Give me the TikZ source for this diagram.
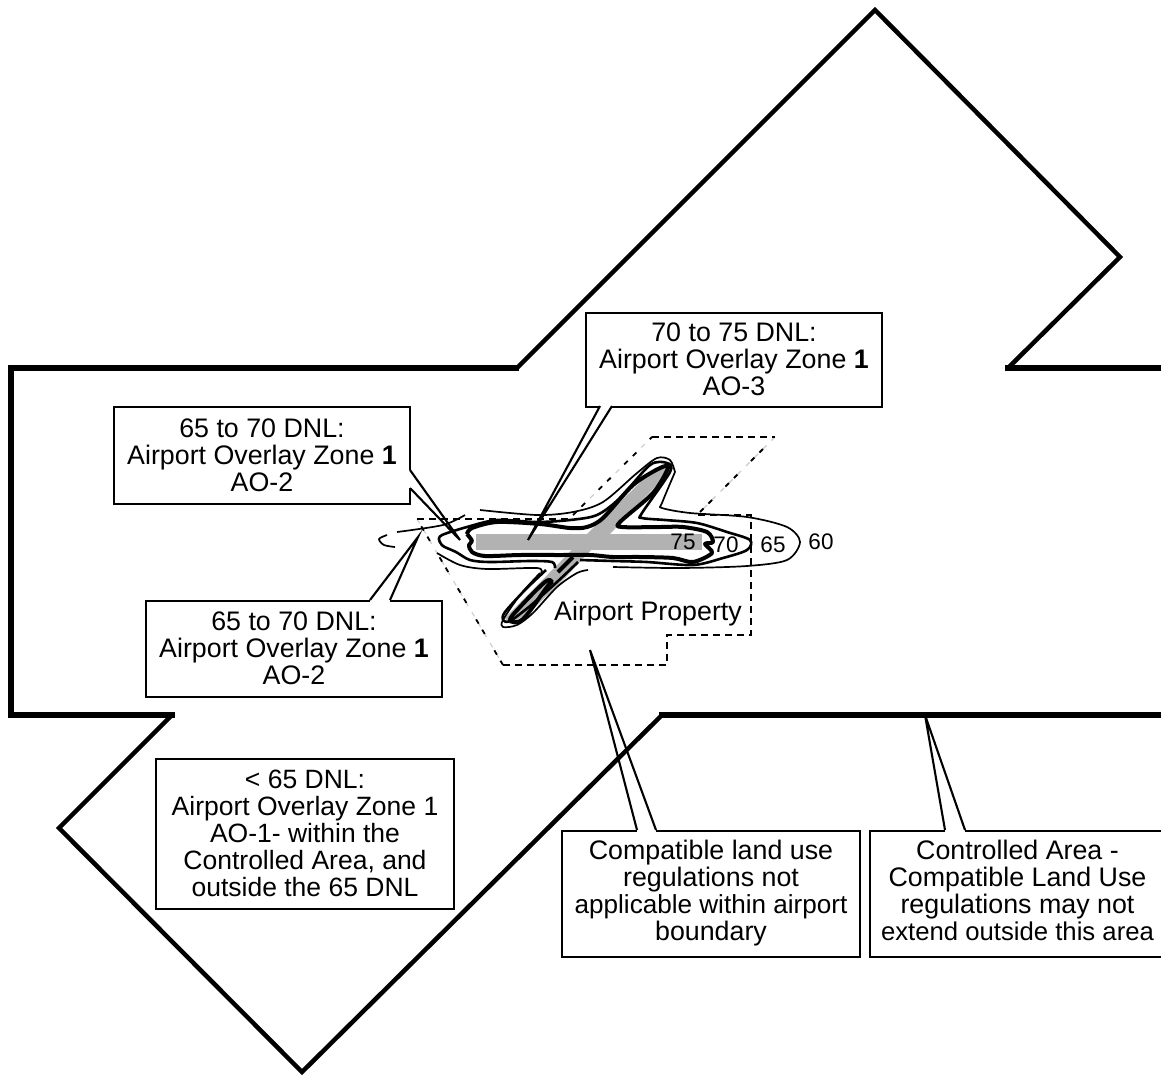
\documentclass[tikz,border=0pt]{standalone}
\usepackage{fontspec}
\setmainfont{Liberation Sans}
\begin{document}
\begin{tikzpicture}[x=1pt,y=-1pt,
  line join=miter,
  outline/.style={line width=4.5pt},
  heavy/.style={line width=6.8pt},
  callout/.style={draw,line width=2pt,fill=white,align=center,anchor=north west,inner sep=0pt,font=\fontsize{26.8}{27}\selectfont},
  ptr/.style={line width=2.1pt},
  gap/.style={white,line width=3pt},
  lbl/.style={font=\fontsize{22.5}{24}\selectfont,inner sep=0pt},
  bnd/.style={line width=1.8pt,dash pattern=on 7pt off 5pt},
  bndd/.style={line width=1.8pt,dash pattern=on 5pt off 7pt on 5pt off 19pt},
  bndg/.style={line width=1.1pt,gray!40,dash pattern=on 5pt off 7pt},
  cthin/.style={line width=1.7pt,line join=round},
  cmed/.style={line width=2.6pt,line join=round},
  cthick/.style={line width=4pt,line join=round},
  rwy/.style={fill=black!30,draw=none}]
\useasboundingbox (0,0) rectangle (1161,1074);
\fill[white] (0,0) rectangle (1161,1074);
% controlled area outline
\draw[outline] (517,368) -- (875,10) -- (1120,257) -- (1008,368);
\draw[heavy] (1005,368) -- (1161,368);
\draw[heavy] (519,368) -- (11,368) -- (11,715) -- (175,715);
\draw[heavy] (1161,715) -- (659,715);
\draw[outline] (662,715) -- (302,1072) -- (59,828) -- (172,715);
% airport property boundary
\draw[bndg] (417,519) -- (503,665);
\draw[bndg] (573,515) -- (652,437);
\draw[bndg] (775,437) -- (700,512);
\draw[bndd] (503,665) -- (417,519);
\draw[bnd] (503,665) -- (667,665) -- (667,635) -- (751,635) -- (751,515) -- (697,515);
\draw[bnd] (417,519) -- (572,519);
\draw[bndd] (573,515) -- (652,437);
\draw[bnd] (652,437) -- (775,437);
\draw[bndd] (700,512) -- (775,437);
% 75 DNL runways
\fill[rwy] (476,534) rectangle (702,550);
\fill[rwy] (655,468) -- (665,466) -- (668,473) -- (610,534) -- (591,550) -- (565,578)
  -- (530,612) -- (510,624) -- (505,618) -- (560,562) -- (587,534) -- cycle;
% 70 DNL contour
\draw[cthick] plot[smooth,tension=0.5] coordinates {(467,534) (472,528) (497,522) (540,524) (570,528) (587,527) (603,518) (633,485) (660,468) (668,468) (653,493) (620,522) (622,527) (660,527) (683,527) (707,532) (713,542) (705,544) (712,553) (693,562) (673,558) (640,557) (613,557) (590,555) (560,555) (520,555) (485,556) (472,552) (469,545) (472,541) (467,534)};
% 65 DNL contour
\draw[cmed] plot[smooth,tension=0.5] coordinates {(439,540) (442,535) (467,527) (497,520) (537,522) (570,520) (597,515) (620,498) (650,465) (667,463) (670,472) (642,513) (642,518) (665,520) (697,523) (727,532) (750,540) (747,550) (723,558) (693,565) (647,562) (613,561) (580,560)};
\draw[cmed] plot[smooth,tension=0.5] coordinates {(439,540) (443,546) (456,552) (470,560) (490,562) (530,561) (552,562) (555,568)};
\draw[cmed] plot[smooth,tension=0.5] coordinates {(578,562) (557,582) (530,606) (510,621) (503,620) (505,612) (525,590) (546,570)};
% 60 DNL contour
\draw[cthin] plot[smooth,tension=0.5] coordinates {(675,472) (662,503) (662,508) (690,513) (747,517) (787,527) (800,542) (787,560) (747,566) (680,568) (613,567)};
\draw[cthin] plot[smooth,tension=0.5] coordinates {(397,532) (443,525) (465,515)};
\draw[cthin] plot[smooth,tension=0.5] coordinates {(480,510) (537,515) (573,512) (603,502) (637,473) (657,458) (670,460) (675,472)};
\draw[cthin] plot[smooth,tension=0.5] coordinates {(387,535) (379,539) (384,545) (395,547)};
\draw[cthin] plot[smooth,tension=0.5] coordinates {(437,553) (460,565) (487,569) (537,568) (541,573)};
\draw[cthin] plot[smooth,tension=0.5] coordinates {(540,573) (520,595) (503,620) (503,627) (517,625) (533,613) (557,587) (577,573) (588,570)};
% inner detail of the lower wing
\draw[cthick] (558,572) -- (573,557);
\draw[cthick] plot[smooth cycle,tension=0.6] coordinates {(510,620) (523,619) (547,587) (552,582) (545,582) (520,607)};
% text on the contours
\node[lbl] (t60) at (821,542) {60};
\node[lbl] (t65) at (773,545) {65};
\node[lbl] (t70) at (726,545) {70};
\node[lbl] (t75) at (683,542) {75};
\node[font=\fontsize{26.8}{27}\selectfont,inner sep=0pt] (prop) at (648,614) {Airport Property};
% callout boxes
\node[callout,minimum width=296pt,minimum height=94pt] (boxa) at (585,311.5) {70 to 75 DNL:\\Airport Overlay Zone \textbf{1}\\AO-3};
\node[callout,minimum width=296pt,minimum height=97pt] (boxb) at (113,405.5) {65 to 70 DNL:\\Airport Overlay Zone \textbf{1}\\AO-2};
\node[callout,minimum width=296pt,minimum height=96pt] (boxc) at (145,599.5) {65 to 70 DNL:\\Airport Overlay Zone \textbf{1}\\AO-2};
\node[callout,minimum width=298pt,minimum height=150pt,font=\fontsize{26.5}{27}\selectfont] (boxd) at (155,757.5) {< 65 DNL:\\Airport Overlay Zone 1\\AO-1- within the\\Controlled Area, and\\outside the 65 DNL};
\node[callout,minimum width=298pt,minimum height=126pt] (boxe) at (561,829.5) {Compatible land use\\regulations not\\{\fontsize{26.1}{27}\selectfont applicable within airport}\\boundary};
\node[callout,minimum width=295pt,minimum height=126pt] (boxf) at (869,829.5) {Controlled Area -\\Compatible Land Use\\regulations may not\\{\fontsize{25.7}{27}\selectfont extend outside this area}\vphantom{y}};
% callout pointers
\coordinate (tipa) at (528,540);
\coordinate (tipb) at (460,540);
\coordinate (tipc) at (418,537);
\coordinate (tipe) at (590,650);
\coordinate (tipf) at (925,715);
\coordinate (a1) at (600,406); \coordinate (a2) at (612,406);
\coordinate (b1) at (410,470); \coordinate (b2) at (410,488);
\coordinate (c1) at (370,600); \coordinate (c2) at (390,600);
\coordinate (e1) at (637,830); \coordinate (e2) at (656,830);
\coordinate (f1) at (945,830); \coordinate (f2) at (965,830);
\foreach \p/\t/\q in {a1/tipa/a2,b1/tipb/b2,c1/tipc/c2,e1/tipe/e2,f1/tipf/f2}{
  \draw[gap] (\p) -- (\q);
  \draw[ptr] (\p) -- (\t) -- (\q);
}
\end{tikzpicture}
\end{document}
